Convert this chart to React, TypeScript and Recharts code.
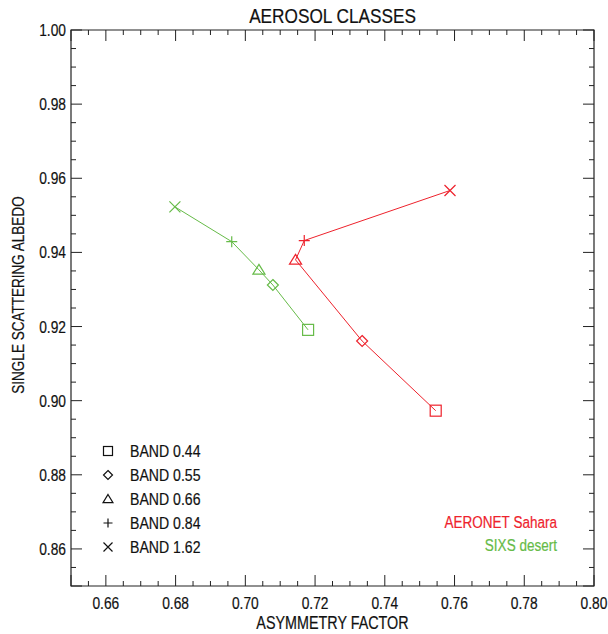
import { ReferenceArea, Scatter, ScatterChart, XAxis, YAxis } from "recharts";

const bands = ["0.44", "0.55", "0.66", "0.84", "1.62"];

// asymmetry factor (g) and single scattering albedo (w) per band
const aeronetG = [0.7546, 0.7335, 0.7144, 0.7169, 0.7587];
const aeronetW = [0.8973, 0.9161, 0.938, 0.9432, 0.9567];
const sixsG = [0.718, 0.7079, 0.7039, 0.6961, 0.6798];
const sixsW = [0.9191, 0.9312, 0.9353, 0.9429, 0.9523];

const xMajorTicks = [0.66, 0.68, 0.7, 0.72, 0.74, 0.76, 0.78, 0.8];
const xMajorLabels = ["0.66", "0.68", "0.70", "0.72", "0.74", "0.76", "0.78", "0.80"];
const yMajorTicks = [0.86, 0.88, 0.9, 0.92, 0.94, 0.96, 0.98, 1.0];
const yMajorLabels = ["0.86", "0.88", "0.90", "0.92", "0.94", "0.96", "0.98", "1.00"];

const RED = "#ee222c";
const GREEN = "#66bb48";
const AXIS = "#222";
const INK = "#111";
const FONT = "'Liberation Sans', Arial, sans-serif";

const W = 608;
const H = 634;
const PLOT = { left: 71, right: 594, top: 30, bottom: 586 };

// minor ticks every 0.005
const xTicks = Array.from({ length: 31 }, (_, i) => +(0.65 + i * 0.005).toFixed(3));
const yTicks = Array.from({ length: 31 }, (_, i) => +(0.85 + i * 0.005).toFixed(3));

const aeronet = bands.map((band, i) => ({ band, g: aeronetG[i], w: aeronetW[i] }));
const sixs = bands.map((band, i) => ({ band, g: sixsG[i], w: sixsW[i] }));

function majorIndex(v: number, majors: number[]) {
  return majors.findIndex((m) => Math.abs(m - v) < 1e-6);
}

// narrow Helvetica look: Liberation Sans squeezed horizontally
function NText({
  x,
  y,
  size,
  anchor = "start",
  fill = INK,
  rotate = 0,
  children,
}: {
  x: number;
  y: number;
  size: number;
  anchor?: "start" | "middle" | "end";
  fill?: string;
  rotate?: number;
  children: any;
}) {
  return (
    <g transform={`translate(${x},${y}) rotate(${rotate}) scale(0.82,1)`}>
      <text x={0} y={0} textAnchor={anchor} fontFamily={FONT} fontSize={size} fill={fill} stroke={fill} strokeWidth={0.2}>
        {children}
      </text>
    </g>
  );
}

function Marker({ cx, cy, band, color, s = 5.5 }: { cx: number; cy: number; band: string; color: string; s?: number }) {
  const common = { fill: "none", stroke: color, strokeWidth: 1.2 };
  switch (band) {
    case "0.44":
      return <rect x={cx - s} y={cy - s} width={2 * s} height={2 * s} {...common} />;
    case "0.55":
      return <path d={`M${cx},${cy - s} L${cx + s},${cy} L${cx},${cy + s} L${cx - s},${cy} Z`} {...common} />;
    case "0.66":
      return <path d={`M${cx},${cy - s} L${cx + s * 1.1},${cy + s * 0.8} L${cx - s * 1.1},${cy + s * 0.8} Z`} {...common} />;
    case "0.84":
      return <path d={`M${cx - s},${cy} L${cx + s},${cy} M${cx},${cy - s} L${cx},${cy + s}`} {...common} />;
    default:
      return <path d={`M${cx - s},${cy - s} L${cx + s},${cy + s} M${cx - s},${cy + s} L${cx + s},${cy - s}`} {...common} />;
  }
}

function XTick(props: any) {
  const { x, payload } = props;
  const idx = majorIndex(payload.value, xMajorTicks);
  const len = idx >= 0 || Math.abs(payload.value - 0.65) < 1e-6 ? 11 : 5;
  return (
    <g>
      <line x1={x} x2={x} y1={PLOT.bottom} y2={PLOT.bottom - len} stroke={AXIS} />
      <line x1={x} x2={x} y1={PLOT.top} y2={PLOT.top + len} stroke={AXIS} />
      {idx >= 0 && (
        <NText x={x} y={609} size={16.8} anchor="middle">
          {xMajorLabels[idx]}
        </NText>
      )}
    </g>
  );
}

function YTick(props: any) {
  const { y, payload } = props;
  const idx = majorIndex(payload.value, yMajorTicks);
  const len = idx >= 0 || Math.abs(payload.value - 0.85) < 1e-6 ? 11 : 5;
  return (
    <g>
      <line x1={PLOT.left} x2={PLOT.left + len} y1={y} y2={y} stroke={AXIS} />
      <line x1={PLOT.right} x2={PLOT.right - len} y1={y} y2={y} stroke={AXIS} />
      {idx >= 0 && (
        <NText x={PLOT.left - 5} y={y + 6} size={16.8} anchor="end">
          {yMajorLabels[idx]}
        </NText>
      )}
    </g>
  );
}

const seriesNames = [
  { name: "AERONET Sahara", color: RED },
  { name: "SIXS desert", color: GREEN },
];

export default function App() {
  return (
    <div style={{ position: "absolute", left: 0, top: 0, width: W, height: H, background: "#fff" }}>
      <ScatterChart width={W} height={H} margin={{ top: PLOT.top, right: W - PLOT.right, bottom: 0, left: 0 }}>
        <XAxis
          type="number"
          dataKey="g"
          domain={[0.65, 0.8]}
          ticks={xTicks}
          interval={0}
          allowDataOverflow
          axisLine={false}
          tickLine={false}
          tick={<XTick />}
          height={H - PLOT.bottom}
        />
        <YAxis
          type="number"
          dataKey="w"
          domain={[0.85, 1.0]}
          ticks={yTicks}
          interval={0}
          allowDataOverflow
          axisLine={false}
          tickLine={false}
          tick={<YTick />}
          width={PLOT.left}
        />
        <ReferenceArea x1={0.65} x2={0.8} y1={0.85} y2={1.0} fill="none" stroke={AXIS} strokeWidth={1.2} />
        <Scatter
          data={aeronet}
          line={{ stroke: RED, strokeWidth: 1 }}
          isAnimationActive={false}
          shape={(p: any) => <Marker cx={p.cx} cy={p.cy} band={p.payload.band} color={RED} />}
        />
        <Scatter
          data={sixs}
          line={{ stroke: GREEN, strokeWidth: 1 }}
          isAnimationActive={false}
          shape={(p: any) => <Marker cx={p.cx} cy={p.cy} band={p.payload.band} color={GREEN} />}
        />
      </ScatterChart>
      <svg width={W} height={H} style={{ position: "absolute", left: 0, top: 0, pointerEvents: "none" }}>
        <NText x={(PLOT.left + PLOT.right) / 2} y={22.5} size={21} anchor="middle">
          AEROSOL CLASSES
        </NText>
        <NText x={(PLOT.left + PLOT.right) / 2} y={629} size={17.5} anchor="middle">
          ASYMMETRY FACTOR
        </NText>
        <NText x={24} y={295} size={16.5} anchor="middle" rotate={-90}>
          SINGLE SCATTERING ALBEDO
        </NText>
        {bands.map((band, i) => (
          <g key={band}>
            <Marker cx={108} cy={451 + i * 24} band={band} color={INK} s={4.5} />
            <NText x={130} y={457.3 + i * 24} size={17.2}>
              BAND {band}
            </NText>
          </g>
        ))}
        {seriesNames.map((s, i) => (
          <NText key={s.name} x={557} y={528.3 + i * 22.4} size={16.5} anchor="end" fill={s.color}>
            {s.name}
          </NText>
        ))}
      </svg>
    </div>
  );
}
